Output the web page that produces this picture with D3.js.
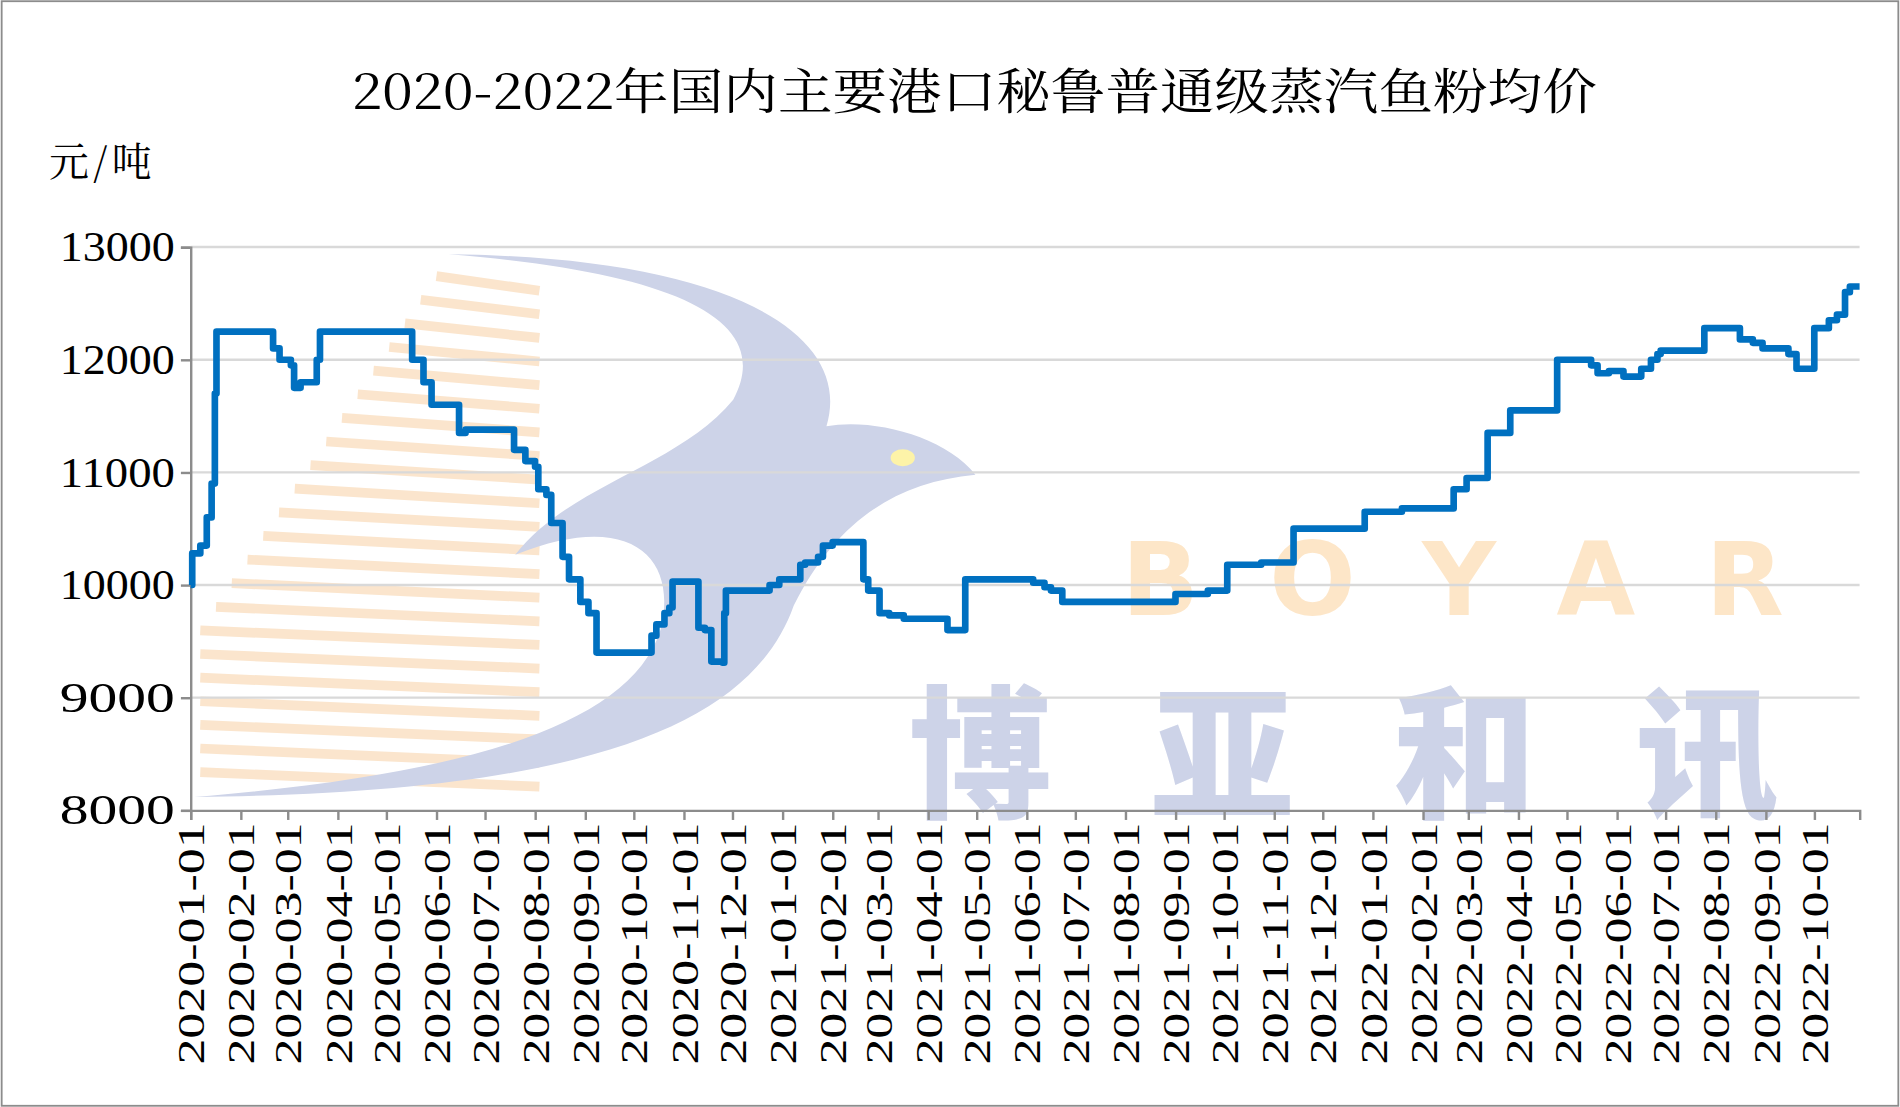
<!DOCTYPE html>
<html><head><meta charset="utf-8">
<script src="https://cdn.jsdelivr.net/npm/d3@7"></script>
<style>body{margin:0;background:#fff}svg{display:block}</style>
</head><body>
<svg id="chart" width="1900" height="1107" viewBox="0 0 1568 914"></svg>
<script>
// price change points (step data)
let dates = ["2020-01-01","2020-01-02","2020-01-07","2020-01-11","2020-01-14","2020-01-16","2020-01-17","2020-02-21","2020-02-25","2020-03-03","2020-03-05","2020-03-09","2020-03-19","2020-03-21",
"2020-05-17","2020-05-24","2020-05-29","2020-06-15","2020-06-19","2020-07-19","2020-07-26","2020-08-01","2020-08-03","2020-08-08","2020-08-11","2020-08-18","2020-08-22","2020-08-29","2020-09-03","2020-09-08",
"2020-10-12","2020-10-15","2020-10-20","2020-10-23","2020-10-25","2020-11-10","2020-11-14","2020-11-18","2020-11-25","2020-11-26","2020-11-27","2020-12-24","2020-12-30",
"2021-01-12","2021-01-15","2021-01-23","2021-01-26","2021-02-01","2021-02-20","2021-02-23","2021-03-02","2021-03-08","2021-03-17","2021-03-23","2021-04-13","2021-04-24",
"2021-06-05","2021-06-12","2021-06-16","2021-06-23","2021-09-01","2021-09-21","2021-10-03","2021-10-24","2021-11-13","2021-12-27","2022-01-19","2022-02-20","2022-02-28","2022-03-13","2022-03-27","2022-04-25",
"2022-05-16","2022-05-20","2022-05-27","2022-06-05","2022-06-16","2022-06-22","2022-06-26","2022-06-28","2022-07-25","2022-08-16","2022-08-24","2022-08-30","2022-09-15","2022-09-20","2022-09-23","2022-10-01","2022-10-10","2022-10-15","2022-10-20","2022-10-23","2022-10-29"];
let prices = [10000,10280,10350,10600,10900,11700,12250,12100,12000,11950,11750,11800,12000,12250,
12000,11800,11600,11350,11380,11200,11100,11050,10850,10800,10550,10250,10050,9850,9750,9400,
9550,9650,9750,9800,10030,9620,9600,9320,9310,9750,9950,10000,10050,
10180,10200,10250,10350,10380,10050,9950,9750,9730,9700,9700,9600,10050,
10020,9980,9950,9850,9920,9950,10180,10200,10500,10650,10680,10850,10950,11350,11550,12000,
11950,11880,11900,11850,11920,12000,12050,12080,12280,12180,12150,12100,12050,11920,11920,12280,12350,12400,12600,12650,12650];
let yTicks = [8000,9000,10000,11000,12000,13000];
let title = "2020-2022年国内主要港口秘鲁普通级蒸汽鱼粉均价";
let unit = "元/吨";

const parse = d3.timeParse("%Y-%m-%d");
const data = dates.map((d, i) => ({date: parse(d), value: prices[i]}));

const svg = d3.select("#chart");
const margin = {left: 157, right: 33, top: 204, bottom: 245};
const W = 1568, H = 914;

svg.append("rect").attr("x", 1).attr("y", 1).attr("width", W - 2).attr("height", H - 2)
  .attr("fill", "#fff").attr("stroke", "#8c8c8c").attr("stroke-width", 1.5);

const x = d3.scaleTime().domain([parse("2020-01-01"), parse("2022-10-29")]).range([margin.left, W - margin.right]);
const y = d3.scaleLinear().domain([8000, 13000]).range([H - margin.bottom, margin.top]);

// watermark
const wm = svg.append("g");
for (let i = 0; i < 22; i++) {
  let yy = 228 + i * 19.5;
  let x0 = 440 - i * 13;
  wm.append("line").attr("x1", Math.max(165, x0 - 80)).attr("y1", yy).attr("x2", 445).attr("y2", yy + 12)
    .attr("stroke", "#f9d5ac").attr("stroke-width", 8).attr("opacity", 0.6);
}
wm.append("path")
  .attr("d", "M370 210 C600 212 705 275 682 352 C720 345 780 360 805 392 C740 398 690 430 655 500 C620 600 480 655 160 658 C380 640 520 600 545 520 C560 460 520 420 425 458 C470 400 560 385 605 330 C640 265 560 225 370 210 Z")
  .attr("fill", "#cdd3e8");
wm.append("ellipse").attr("cx", 745).attr("cy", 378).attr("rx", 10).attr("ry", 7).attr("fill", "#fdf3a8");
wm.append("text").attr("x", 1228).attr("y", 508).attr("text-anchor", "middle")
  .attr("font-family", "DejaVu Sans").attr("font-weight", "bold").attr("font-size", 84)
  .attr("letter-spacing", 58).attr("fill", "#fde6c8").text("BOYAR");
wm.append("text").attr("x", 1150).attr("y", 666).attr("text-anchor", "middle")
  .attr("font-family", "Noto Sans CJK SC").attr("font-weight", "900").attr("font-size", 118)
  .attr("letter-spacing", 82).attr("fill", "#cdd3e8").text("博亚和讯");

// grid
svg.append("g").selectAll("line").data(yTicks.slice(1)).join("line")
  .attr("x1", margin.left).attr("x2", W - margin.right)
  .attr("y1", d => y(d)).attr("y2", d => y(d))
  .attr("stroke", "#d9d9d9").attr("stroke-width", 2);

// axes
const yAxis = svg.append("g").attr("transform", `translate(${margin.left},0)`)
  .call(d3.axisLeft(y).tickValues(yTicks).tickSize(8).tickFormat(d3.format("d")));
yAxis.select(".domain").attr("stroke", "#8c8c8c").attr("stroke-width", 2);
yAxis.selectAll(".tick line").attr("stroke", "#8c8c8c").attr("stroke-width", 2);
yAxis.selectAll("text").attr("font-family", "Liberation Serif").attr("font-size", 35).attr("fill", "#000").attr("dx", -2)
  .attr("textLength", 95).attr("lengthAdjust", "spacingAndGlyphs");

const months = d3.timeMonth.range(parse("2020-01-01"), parse("2022-10-02"));
const xAxis = svg.append("g").attr("transform", `translate(0,${H - margin.bottom})`)
  .call(d3.axisBottom(x).tickValues(months).tickSize(8).tickFormat(d3.timeFormat("%Y-%m-%d")));
xAxis.select(".domain").attr("stroke", "#8c8c8c").attr("stroke-width", 2);
xAxis.selectAll(".tick line").attr("stroke", "#8c8c8c").attr("stroke-width", 2);
xAxis.selectAll("text").attr("font-family", "Liberation Serif").attr("font-size", 31).attr("fill", "#000")
  .attr("text-anchor", "end").attr("transform", "rotate(-90)").attr("x", -10).attr("y", 0).attr("dy", "0.35em")
  .attr("textLength", 200).attr("lengthAdjust", "spacingAndGlyphs");

// line
const line = d3.line().x(d => x(d.date)).y(d => y(d.value)).curve(d3.curveStepAfter);
svg.append("path").datum(data).attr("d", line).attr("fill", "none")
  .attr("stroke", "#0070c0").attr("stroke-width", 5.5).attr("stroke-linejoin", "round");

svg.append("text").attr("x", 804).attr("y", 90).attr("text-anchor", "middle")
  .attr("font-family", "Noto Serif CJK SC, Noto Sans CJK SC").attr("font-size", 40)
  .attr("textLength", 1028).attr("lengthAdjust", "spacingAndGlyphs").text(title);
svg.append("text").attr("x", 40).attr("y", 145)
  .attr("font-family", "Noto Serif CJK SC, Noto Sans CJK SC").attr("font-size", 33)
  .attr("textLength", 85).text(unit);
</script>
</body></html>
